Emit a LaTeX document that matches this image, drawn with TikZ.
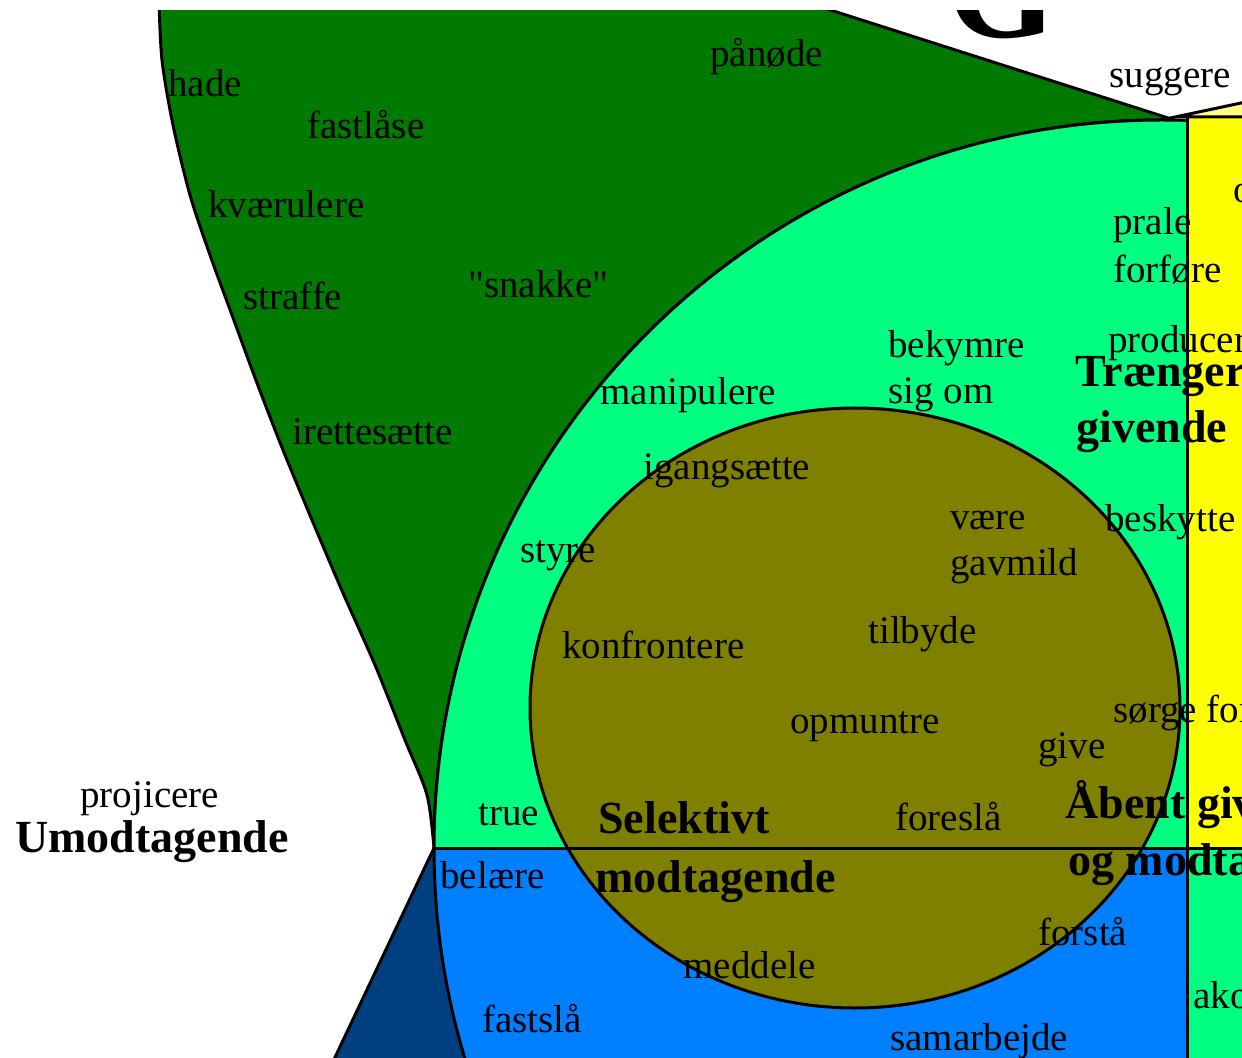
\documentclass[tikz,border=0pt]{standalone}
\usepackage{fontspec}
\setmainfont{Liberation Serif}[Ligatures=TeXOff]
\usepackage{tikz}
\usetikzlibrary{positioning}
\definecolor{darkgrn}{HTML}{007A00}
\definecolor{litegrn}{HTML}{00FF80}
\definecolor{olivegrn}{HTML}{808000}
\definecolor{midblu}{HTML}{0080FF}
\definecolor{darkblu}{HTML}{004080}
\definecolor{yel}{HTML}{FFFF00}
\definecolor{paleyel}{HTML}{FFFF80}

\begin{document}
\begin{tikzpicture}[
    x=0.5pt, y=-0.5pt,
    rim/.style={
      draw=black,
      line width=1.5pt
    },
    word/.style={
      anchor=base west,
      inner sep=0pt,
      font=\fontsize{19.5}{22}\selectfont
    },
    head/.style={
      anchor=base west,
      inner sep=0pt,
      font=\bfseries\fontsize{23}{26}\selectfont
    }]

    % Helper macro.
    \def\wrd#1#2#3{ \node[word] (#1) at (#2) {#3} }

    \useasboundingbox (0,0) rectangle (1242,1058);
    \clip (0,11) rectangle (1242,1058);

    % The upper cone.
    \filldraw[rim,fill=darkgrn] plot[smooth,tension=0.5] coordinates {
        (159,0) (162,60) (173,125) (190,195) (210,255) (232,315)
        (257,383) (283,450) (312,520) (343,593) (375,665) (405,740)
        (427,795) (434,848)}
      arc[start angle=180, end angle=271, radius=728] --
      (799,0) -- cycle;

    % The lower cone.
    \filldraw[rim,fill=darkblu] (434,848) -- (329,1070) -- (620,1070) -- cycle;

    % The big circle, green above the line and blue below it.
    \begin{scope}
      \clip (0,0) rectangle (1242,848);
      \fill[litegrn] (1162,848) circle[radius=728];
    \end{scope}
    \begin{scope}
      \clip (0,848) rectangle (1242,1070);
      \fill[midblu] (1162,848) circle[radius=728];
    \end{scope}
    \draw[rim] (1162,848) circle[radius=728];

    % The inner ellipse.
    \filldraw[rim,fill=olivegrn] (855,708) ellipse[x radius=325, y radius=300];
    \draw[rim] (434,848) -- (1260,848);

    % The column on the right.
    \filldraw[rim,fill=yel] (1187,117) rectangle (1260,848);
    \filldraw[rim,fill=litegrn] (1187,848) rectangle (1260,1070);
    \filldraw[rim,fill=paleyel] (1175,117) -- (1260,99) -- (1260,117) -- cycle;

    % Heading cut off at the top.
    \node[anchor=base west,inner sep=0pt,
      font=\bfseries\fontsize{70}{70}\selectfont] (bigG) at (947,38) {G};

    % The words.
    \wrd{hade}{168,97}{hade};
    \wrd{paanoede}{710,67}{pånøde};
    \wrd{suggere}{1109,88}{suggere};
    \wrd{fastlaase}{307,139}{fastlåse};
    \wrd{kvaerul}{208,218}{kværulere};
    \wrd{ofrag}{1233,203}{o};
    \wrd{prale}{1113,235}{prale};
    \wrd{forfoere}{1113,283}{forføre};
    \wrd{straffe}{243,310}{straffe};
    \wrd{snakke}{468,298}{"snakke"};
    \wrd{bekymre}{888,358}{bekymre};
    \wrd{sigom}{888,404}{sig om};
    \wrd{producere}{1108,353}{producere};
    \wrd{manipul}{600,405}{manipulere};
    \wrd{irettes}{292,445}{irettesætte};
    \wrd{igangs}{643,480}{igangsætte};
    \wrd{vaere}{950,530}{være};
    \wrd{gavmild}{950,575}{gavmild};
    \wrd{beskytte}{1105,532}{beskytte};
    \wrd{styre}{520,563}{styre};
    \wrd{konfront}{562,658}{konfrontere};
    \wrd{tilbyde}{868,643}{tilbyde};
    \wrd{opmuntre}{790,733}{opmuntre};
    \wrd{soergefor}{1113,722}{sørge for};
    \wrd{give}{1038,758}{give};
    \wrd{projic}{80,807}{projicere};
    \wrd{true}{478,825}{true};
    \wrd{foreslaa}{895,830}{foreslå};
    \wrd{belaere}{440,888}{belære};
    \wrd{forstaa}{1038,945}{forstå};
    \wrd{meddele}{683,978}{meddele};
    \wrd{fastslaa}{482,1032}{fastslå};
    \wrd{ako}{1193,1008}{ako};
    \wrd{samarb}{890,1050}{samarbejde};

    % The headings.
    \node[head] (umodtag) at (15,852) {Umodtagende};
    \node[head] (selekt) at (598,833) {Selektivt};
    \node[head] (modtag) at (595,892) {modtagende};
    \node[head] (traenger) at (1075,387) {Trænger};
    \node[head] (givende) at (1076,443) {givende};
    \node[head] (aabent) at (1065,818) {Åbent givende};
    \node[head] (ogmodtag) at (1068,875) {og modtagende};
  \end{tikzpicture}
\end{document}
